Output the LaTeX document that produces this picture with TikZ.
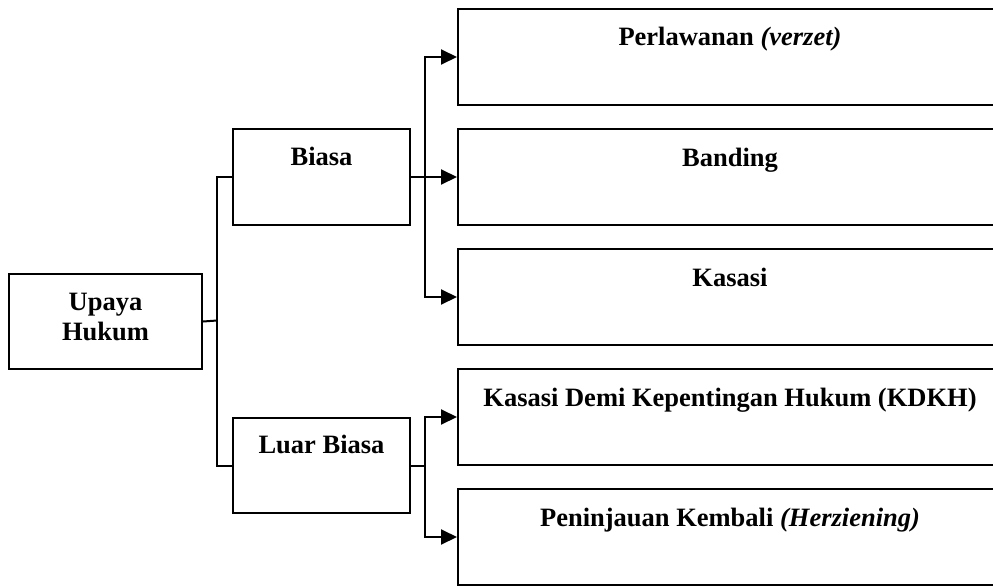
\documentclass[tikz,border=0pt]{standalone}
\usepackage{fontspec}
\setmainfont{Liberation Serif}
\usetikzlibrary{arrows.meta}
\begin{document}
\begin{tikzpicture}[x=1pt,y=-1pt,
  box/.style={draw, line width=2pt, inner sep=0pt,
    font=\fontsize{26.5}{30}\selectfont\bfseries},
  topbox/.style={box, anchor=north west, text height=37pt, text depth=59pt},
  wide/.style={topbox, minimum width=544pt},
  link/.style={line width=2pt},
  arr/.style={link, -{Triangle[length=16pt,width=15pt]}}]
\useasboundingbox (0,0) rectangle (993,586);
\clip (0,0) rectangle (993,586);

% root (two lines; the text box baseline is the last line)
\node[topbox, minimum width=193pt, text height=66pt, text depth=29pt,
      align=center] (up) at (8,273) {Upaya\\Hukum};

% second level
\node[topbox, minimum width=177pt, text height=36pt, text depth=60pt]
      (bi) at (232,128) {Biasa};
\node[topbox, minimum width=177pt, text height=35pt, text depth=60pt]
      (lb) at (232,417) {Luar Biasa};

% kinds of legal remedies
\node[wide] (pv) at (457,8)   {Perlawanan \textit{(verzet)}};
\node[wide] (bd) at (457,128) {Banding};
\node[wide] (ks) at (457,248) {Kasasi};
\node[wide] (kd) at (457,368) {Kasasi Demi Kepentingan Hukum (KDKH)};
\node[wide] (pk) at (457,488) {Peninjauan Kembali \textit{(Herziening)}};

% branch positions
\coordinate (j1) at (217,320.5);
\coordinate (j2) at (425,0);

% left tree
\draw[link] (up.east) -- (j1);
\draw[link] (bi.west) -| (lb.west -| j1) -- (lb.west);

% ordinary remedies
\draw[arr] (ks.west -| j2) |- (pv.west);
\draw[arr] (pv.west -| j2) |- (ks.west);
\draw[arr] (bi.east) -- (bd.west);

% extraordinary remedies
\draw[link] (lb.east) -- (lb.east -| j2);
\draw[arr] (pk.west -| j2) |- (kd.west);
\draw[arr] (kd.west -| j2) |- (pk.west);
\end{tikzpicture}
\end{document}
